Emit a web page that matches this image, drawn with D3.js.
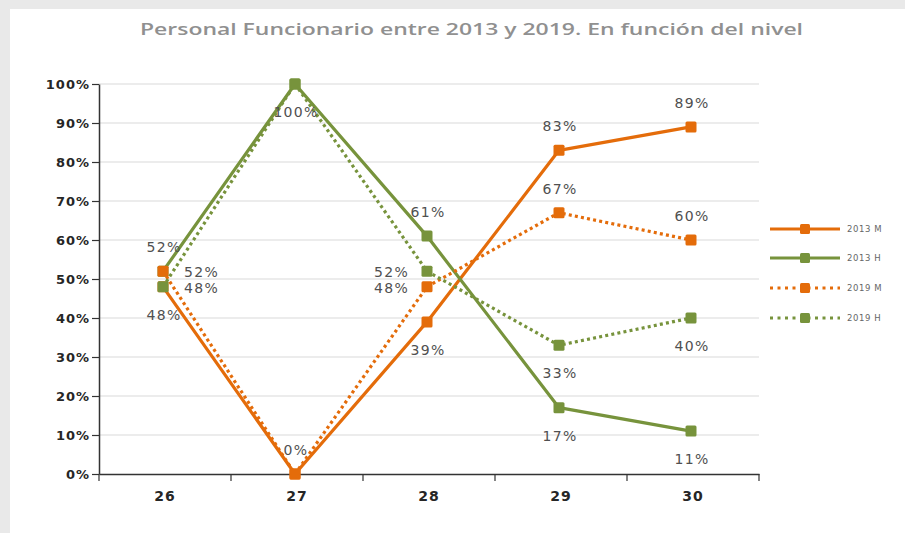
<!DOCTYPE html>
<html>
<head>
<meta charset="utf-8">
<script src="https://cdn.jsdelivr.net/npm/d3@7"></script>
<style>
  html, body { margin: 0; padding: 0; background: #ffffff; }
  svg { display: block; }
</style>
</head>
<body>
<svg id="chart" width="905" height="533"></svg>
<script>
// ---- data ----
const categories = ["26", "27", "28", "29", "30"];
const seriesNames = ["2013 M", "2013 H", "2019 M", "2019 H"];
const values2013M = [0.48, 0.00, 0.39, 0.83, 0.89];
const values2013H = [0.52, 1.00, 0.61, 0.17, 0.11];
const values2019M = [0.52, 0.00, 0.48, 0.67, 0.60];
const values2019H = [0.48, 1.00, 0.52, 0.33, 0.40];
const yTicks = [0, 0.1, 0.2, 0.3, 0.4, 0.5, 0.6, 0.7, 0.8, 0.9, 1.0];
const titleText = "Personal Funcionario entre 2013 y 2019. En función del nivel";

// label placement per series (style config)
const labelPlace = [
  ["below", "above", "below", "above", "above"],
  ["above", "below", "above", "below", "below"],
  ["right", null, "left", "above", "above"],
  ["right", null, "left", "below", "below"]
];

(function () {
const ORANGE = "#E46C0A", GREEN = "#77933C";
const series = [
  { name: seriesNames[0], values: values2013M, color: ORANGE, dotted: false },
  { name: seriesNames[1], values: values2013H, color: GREEN, dotted: false },
  { name: seriesNames[2], values: values2019M, color: ORANGE, dotted: true },
  { name: seriesNames[3], values: values2019H, color: GREEN, dotted: true }
];

const svg = d3.select("#chart");

// frame: light gray band top/left
svg.append("rect").attr("x", 0).attr("y", 0).attr("width", 905).attr("height", 533).attr("fill", "#e9e9e9");
svg.append("rect").attr("x", 10).attr("y", 9).attr("width", 895).attr("height", 524).attr("fill", "#ffffff");

// title
svg.append("text")
  .attr("x", 140).attr("y", 35)
  .attr("textLength", 663).attr("lengthAdjust", "spacingAndGlyphs")
  .style("font-family", "'Open Sans', sans-serif")
  .style("font-size", "16px").style("font-weight", "600")
  .attr("fill", "#909090")
  .text(titleText);

const pLeft = 99, pRight = 759, pTop = 84, pBottom = 474;
const x = d3.scaleBand().domain(categories).range([pLeft, pRight]);
const cx = c => x(c) + x.bandwidth() / 2 - 2;
const y = d3.scaleLinear().domain([0, 1]).range([pBottom, pTop]);

// gridlines
svg.append("g").selectAll("line").data(yTicks.filter(t => t > 0)).join("line")
  .attr("x1", pLeft).attr("x2", pRight)
  .attr("y1", d => y(d)).attr("y2", d => y(d))
  .attr("stroke", "#d9d9d9").attr("stroke-width", 1);

// y axis
const yAxis = svg.append("g").attr("transform", `translate(${pLeft},0)`)
  .call(d3.axisLeft(y).tickValues(yTicks).tickFormat(d3.format(".0%")).tickSize(7).tickSizeOuter(0));
yAxis.select(".domain").attr("stroke", "#333").attr("stroke-width", 1.5);
yAxis.selectAll(".tick line").attr("stroke", "#333").attr("stroke-width", 1.2);
yAxis.selectAll(".tick text")
  .attr("x", -9)
  .style("font-family", "'DejaVu Sans', sans-serif").style("font-size", "13px")
  .style("font-weight", "bold").style("letter-spacing", "1px")
  .attr("fill", "#262626");

// x axis
const xAxis = svg.append("g").attr("transform", `translate(0,${pBottom})`)
  .call(d3.axisBottom(x).tickSize(0).tickSizeOuter(0));
xAxis.select(".domain").attr("stroke", "#333").attr("stroke-width", 1.5);
xAxis.selectAll(".tick text")
  .attr("x", 0).attr("y", 27).attr("dy", 0)
  .style("font-family", "'DejaVu Sans', sans-serif").style("font-size", "14px")
  .style("font-weight", "bold").style("letter-spacing", "1px")
  .attr("fill", "#262626");
// category boundary ticks
const bounds = categories.map(c => x(c)).concat([x(categories[categories.length - 1]) + x.bandwidth()]);
svg.append("g").selectAll("line").data(bounds).join("line")
  .attr("x1", d => d).attr("x2", d => d)
  .attr("y1", pBottom).attr("y2", pBottom + 7)
  .attr("stroke", "#333").attr("stroke-width", 1.2);

// series
const line = d3.line().x((d, i) => cx(categories[i])).y(d => y(d));
series.forEach(s => {
  const g = svg.append("g");
  g.append("path").datum(s.values)
    .attr("d", line).attr("fill", "none")
    .attr("stroke", s.color).attr("stroke-width", 3.2)
    .attr("stroke-dasharray", s.dotted ? "3,3.2" : null)
    .attr("stroke-linejoin", "round");
  g.selectAll("rect").data(s.values).join("rect")
    .attr("x", (d, i) => cx(categories[i]) - 5.5)
    .attr("y", d => y(d) - 5.5)
    .attr("width", 11).attr("height", 11).attr("rx", 1.5)
    .attr("fill", s.color);
});

// data labels
const fmt = d3.format(".0%");
const labelG = svg.append("g")
  .style("font-family", "'DejaVu Sans', sans-serif").style("font-size", "14px")
  .style("letter-spacing", "1.3px").attr("fill", "#505050");
series.forEach((s, si) => {
  s.values.forEach((v, i) => {
    const p = labelPlace[si][i];
    if (!p) return;
    const px = cx(categories[i]), py = y(v);
    let tx = px + 1, ty = py, anchor = "middle";
    if (p === "above") ty = py - 24;
    else if (p === "below") ty = py + 28;
    else if (p === "right") { tx = px + 21; anchor = "start"; ty = py + 1; }
    else if (p === "left") { tx = px - 18; anchor = "end"; ty = py + 1; }
    labelG.append("text")
      .attr("x", tx).attr("y", ty).attr("dy", "0.36em")
      .attr("text-anchor", anchor)
      .text(fmt(v));
  });
});

// legend
const legendY = [229, 258, 288, 318];
const lg = svg.append("g");
series.forEach((s, i) => {
  const row = lg.append("g").attr("transform", `translate(0,${legendY[i]})`);
  row.append("line").attr("x1", 770).attr("x2", 840).attr("y1", 0).attr("y2", 0)
    .attr("stroke", s.color).attr("stroke-width", 3.2)
    .attr("stroke-dasharray", s.dotted ? "3,4.5" : null);
  row.append("rect").attr("x", 800).attr("y", -5).attr("width", 10).attr("height", 10)
    .attr("rx", 1.5).attr("fill", s.color);
  row.append("text").attr("x", 847).attr("y", 0).attr("dy", "0.35em")
    .style("font-family", "'DejaVu Sans', sans-serif").style("font-size", "8.5px")
    .style("letter-spacing", "0.6px").attr("fill", "#666")
    .text(s.name);
});
})();
</script>
</body>
</html>
